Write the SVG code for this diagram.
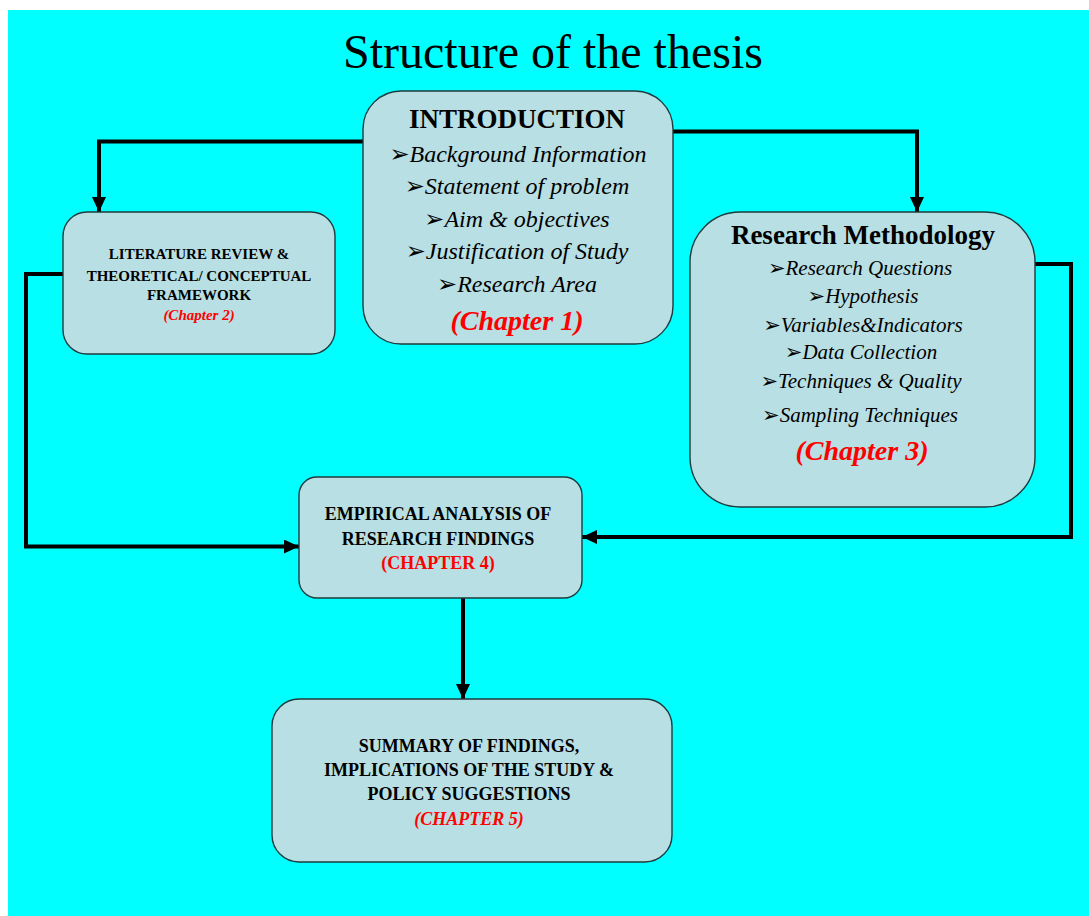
<svg xmlns="http://www.w3.org/2000/svg" width="1089" height="916" viewBox="0 0 1089 916">
<style>
.box{fill:#b8dfe3;stroke:#1e3b3d;stroke-width:1.4}
.conn{fill:none;stroke:#000;stroke-width:4;stroke-linejoin:miter}
.t{font-family:"Liberation Serif","Times New Roman","DejaVu Sans",serif;text-anchor:middle;fill:#000}
.b{font-weight:bold}
.i{font-style:italic}
.red{fill:#ff0000;font-weight:bold;font-style:italic}
.redn{fill:#ff0000;font-weight:bold}
</style>
<defs>
<marker id="ah" viewBox="0 0 15 14" refX="15" refY="7" markerWidth="15" markerHeight="14" markerUnits="userSpaceOnUse" orient="auto">
<path d="M0,0 L15,7 L0,14 z" fill="#000"/>
</marker>
</defs>
<rect x="0" y="0" width="1089" height="916" fill="#ffffff"/>
<rect x="8" y="10" width="1081" height="906" fill="#00ffff"/>
<text class="t" x="553" y="68" font-size="48">Structure of the thesis</text>
<g id="connectors">
<path class="conn" d="M364,141.5 H99 V212" marker-end="url(#ah)"/>
<path class="conn" d="M672,131.5 H917 V212" marker-end="url(#ah)"/>
<path class="conn" d="M63,274 H26 V546.5 H299" marker-end="url(#ah)"/>
<path class="conn" d="M1035,264 H1071 V537 H582" marker-end="url(#ah)"/>
<path class="conn" d="M463,598 V699" marker-end="url(#ah)"/>
</g>
<g id="intro">
<rect class="box" x="363" y="91" width="310" height="253" rx="38"/>
<text class="t b" x="517" y="128" font-size="27">INTRODUCTION</text>
<text class="t i" x="518" y="162" font-size="24">➢Background Information</text>
<text class="t i" x="517" y="194" font-size="24">➢Statement of problem</text>
<text class="t i" x="517" y="227" font-size="24">➢Aim &amp; objectives</text>
<text class="t i" x="517" y="259" font-size="24">➢Justification of Study</text>
<text class="t i" x="517" y="292" font-size="24">➢Research Area</text>
<text class="t red" x="517" y="330" font-size="28">(Chapter 1)</text>
</g>
<g id="literature">
<rect class="box" x="63" y="212" width="272" height="142" rx="24"/>
<text class="t b" x="199" y="259" font-size="15">LITERATURE REVIEW &amp;</text>
<text class="t b" x="199" y="281" font-size="15">THEORETICAL/ CONCEPTUAL</text>
<text class="t b" x="199" y="300" font-size="15">FRAMEWORK</text>
<text class="t red" x="199" y="320" font-size="15">(Chapter 2)</text>
</g>
<g id="methodology">
<rect class="box" x="690" y="212" width="345" height="295" rx="50"/>
<text class="t b" x="863" y="244" font-size="27">Research Methodology</text>
<text class="t i" x="860" y="275" font-size="21">➢Research Questions</text>
<text class="t i" x="863" y="303" font-size="21">➢Hypothesis</text>
<text class="t i" x="863" y="332" font-size="21">➢Variables&amp;Indicators</text>
<text class="t i" x="861" y="359" font-size="21">➢Data Collection</text>
<text class="t i" x="861" y="388" font-size="21">➢Techniques &amp; Quality</text>
<text class="t i" x="860" y="422" font-size="21">➢Sampling Techniques</text>
<text class="t red" x="862" y="460" font-size="28">(Chapter 3)</text>
</g>
<g id="empirical">
<rect class="box" x="299" y="477" width="283" height="121" rx="18"/>
<text class="t b" x="438" y="520" font-size="18">EMPIRICAL ANALYSIS OF</text>
<text class="t b" x="438" y="545" font-size="18">RESEARCH FINDINGS</text>
<text class="t redn" x="438" y="569" font-size="18">(CHAPTER 4)</text>
</g>
<g id="summary">
<rect class="box" x="272" y="699" width="400" height="163" rx="27"/>
<text class="t b" x="469" y="752" font-size="18">SUMMARY OF FINDINGS,</text>
<text class="t b" x="469" y="776" font-size="18">IMPLICATIONS OF THE STUDY &amp;</text>
<text class="t b" x="469" y="800" font-size="18">POLICY SUGGESTIONS</text>
<text class="t red" x="469" y="825" font-size="18">(CHAPTER 5)</text>
</g>
</svg>
